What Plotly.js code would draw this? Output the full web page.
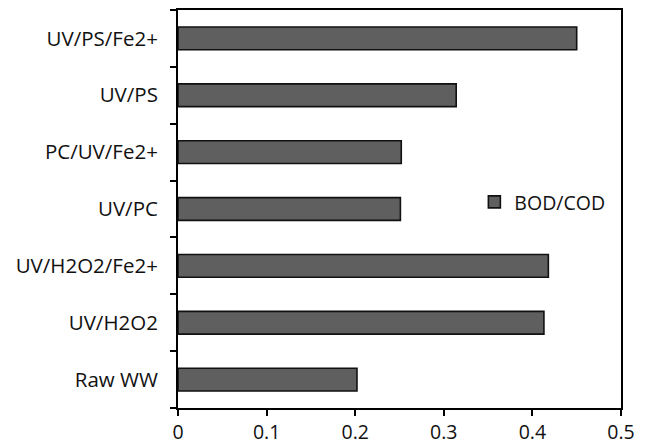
<!DOCTYPE html>
<html>
<head>
<meta charset="utf-8">
<script src="https://cdn.plot.ly/plotly-3.0.1.min.js"></script>
<style>html,body{margin:0;padding:0;background:#fff;}#chart{width:648px;height:447px;}</style>
</head>
<body>
<div id="chart"></div>
<script>
var categories = ["Raw WW", "UV/H2O2", "UV/H2O2/Fe2+", "UV/PC", "PC/UV/Fe2+", "UV/PS", "UV/PS/Fe2+"];
var bodCod = [0.202, 0.413, 0.418, 0.251, 0.252, 0.314, 0.45];
var seriesName = "BOD/COD";
var xTicks = [0, 0.1, 0.2, 0.3, 0.4, 0.5];
var xTickText = ["0", "0.1", "0.2", "0.3", "0.4", "0.5"];

var trace = {
  type: "bar",
  orientation: "h",
  y: categories,
  x: bodCod,
  name: seriesName,
  width: 0.4,
  marker: {color: "#5f5f5f", line: {color: "#111111", width: 1.6}},
  showlegend: true
};

var layout = {
  width: 648, height: 447,
  margin: {l: 178, r: 27, t: 10, b: 39},
  paper_bgcolor: "#fff", plot_bgcolor: "#fff",
  font: {family: "Open Sans, sans-serif", size: 20, color: "#111"},
  showlegend: true,
  legend: {x: 0.669, y: 0.517, xanchor: "left", yanchor: "middle",
           bgcolor: "rgba(0,0,0,0)", font: {size: 19.5, color: "#111"}},
  xaxis: {range: [0, 0.5], tickvals: xTicks, ticktext: xTickText,
          showgrid: false, zeroline: false, showline: true, linecolor: "#000", linewidth: 2,
          mirror: true, ticks: "outside", ticklen: 6, tickwidth: 2, tickcolor: "#000",
          tickfont: {size: 19.5}},
  yaxis: {type: "category", categoryorder: "array", categoryarray: categories,
          range: [-0.5, 6.5], tickson: "boundaries", ticklabelstandoff: 14, ticklabelposition: "outside",
          showgrid: false, zeroline: false, showline: true, linecolor: "#000", linewidth: 2,
          mirror: true, ticks: "outside", ticklen: 6, tickwidth: 2, tickcolor: "#000",
          tickfont: {size: 20.5}}
};

Plotly.newPlot("chart", [trace], layout, {displayModeBar: false, staticPlot: true});
</script>
</body>
</html>
